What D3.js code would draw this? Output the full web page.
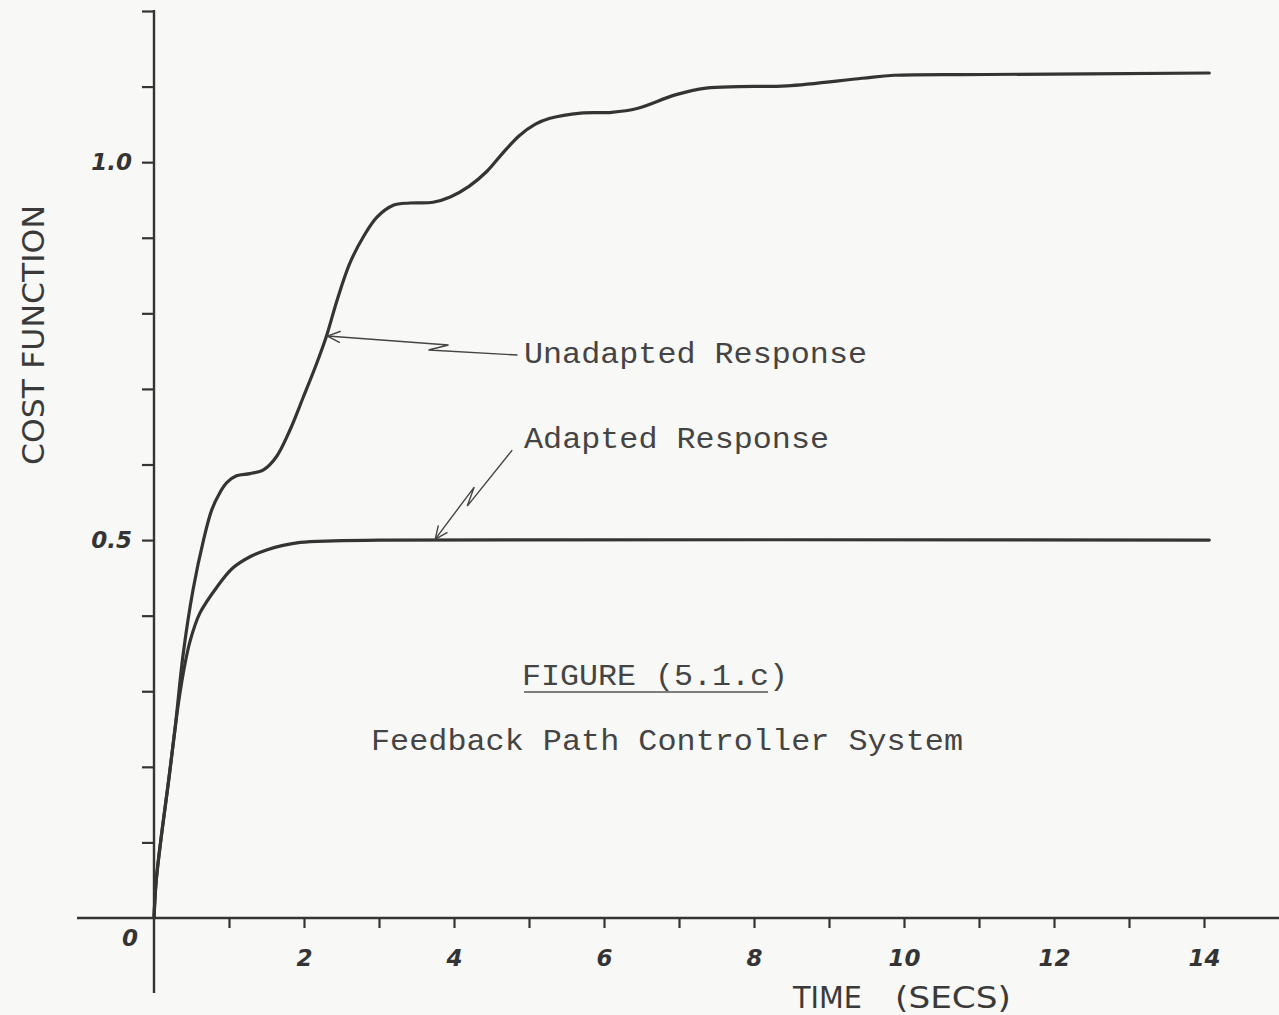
<!DOCTYPE html>
<html>
<head>
<meta charset="utf-8">
<script src="https://cdn.jsdelivr.net/npm/d3@7"></script>
<style>
  html, body { margin: 0; padding: 0; background: #f8f8f6; }
  svg { display: block; }
</style>
</head>
<body>
<svg id="chart" width="1279" height="1015"></svg>
<script>
// Cost function vs. time, sampled from the two simulated responses
const unadaptedTime = [0, 0.03, 0.1, 0.19, 0.28, 0.39, 0.52, 0.66, 0.77, 0.88, 0.97, 1.1, 1.28, 1.46, 1.63, 1.81, 1.99, 2.17, 2.3, 2.44, 2.61, 2.79, 2.97, 3.19, 3.41, 3.72, 3.95, 4.2, 4.44, 4.65, 4.87, 5.08, 5.28, 5.69, 6.1, 6.44, 6.95, 7.36, 7.8, 8.44, 9.44, 9.87, 11.1, 14.07];
const unadaptedCost = [0, 0.05, 0.11, 0.178, 0.25, 0.35, 0.434, 0.5, 0.54, 0.563, 0.576, 0.585, 0.588, 0.593, 0.61, 0.645, 0.689, 0.734, 0.77, 0.817, 0.866, 0.901, 0.927, 0.943, 0.946, 0.947, 0.954, 0.968, 0.988, 1.012, 1.035, 1.05, 1.058, 1.065, 1.066, 1.071, 1.089, 1.098, 1.1, 1.101, 1.111, 1.115, 1.116, 1.118];

const adaptedTime = [0, 0.03, 0.1, 0.19, 0.32, 0.39, 0.48, 0.61, 0.84, 1.05, 1.28, 1.5, 1.72, 1.95, 2.39, 3.0, 14.07];
const adaptedCost = [0, 0.05, 0.11, 0.178, 0.28, 0.324, 0.366, 0.403, 0.438, 0.463, 0.478, 0.487, 0.493, 0.497, 0.499, 0.5, 0.5];

// Axis ticks and labels
const xTickValues = [1, 2, 3, 4, 5, 6, 7, 8, 9, 10, 11, 12, 13, 14];
const xLabelValues = [2, 4, 6, 8, 10, 12, 14];
const yTickValues = [0.1, 0.2, 0.3, 0.4, 0.5, 0.6, 0.7, 0.8, 0.9, 1.0, 1.1, 1.2];
const yLabelValues = [0.5, 1.0];

// Annotation anchors (time, cost) on each curve
const unadaptedPointer = [2.3, 0.77];
const adaptedPointer = [3.75, 0.5];

const ink = "#343434";
const svg = d3.select("#chart");

const x = d3.scaleLinear().domain([0, 14]).range([154, 1204]);
const y = d3.scaleLinear().domain([0, 1.2]).range([918, 11]);

const labelFont = "'DejaVu Sans', sans-serif";
const typeFont = "'Liberation Mono', 'Courier New', monospace";

function numberStyle(sel) {
  sel.attr("fill", ink)
    .style("font-family", labelFont)
    .style("font-size", "23px")
    .style("font-style", "italic")
    .style("font-weight", "bold");
}

// Axis lines (extend past the origin like a hand-drawn frame)
svg.append("line")
  .attr("x1", 77).attr("x2", 1279)
  .attr("y1", y(0)).attr("y2", y(0))
  .attr("stroke", ink).attr("stroke-width", 2.4);
svg.append("line")
  .attr("x1", x(0)).attr("x2", x(0))
  .attr("y1", y(1.2) - 1).attr("y2", 993)
  .attr("stroke", ink).attr("stroke-width", 2.4);

// Y axis ticks and labels
const yAxis = d3.axisLeft(y)
  .tickValues(yTickValues)
  .tickSize(12)
  .tickPadding(10)
  .tickFormat(d => yLabelValues.some(v => Math.abs(v - d) < 1e-9) ? d3.format(".1f")(d) : "");
const gy = svg.append("g").attr("transform", `translate(${x(0)},0)`).call(yAxis);
gy.select(".domain").remove();
gy.selectAll(".tick line").attr("stroke", ink).attr("stroke-width", 2.2);
gy.selectAll(".tick text").call(numberStyle);

// X axis ticks and labels
const xAxis = d3.axisBottom(x)
  .tickValues(xTickValues)
  .tickSize(10)
  .tickPadding(22)
  .tickFormat(d => xLabelValues.includes(d) ? String(d) : "");
const gx = svg.append("g").attr("transform", `translate(0,${y(0)})`).call(xAxis);
gx.select(".domain").remove();
gx.selectAll(".tick line").attr("stroke", ink).attr("stroke-width", 2.2);
gx.selectAll(".tick text").call(numberStyle);

// Origin label
svg.append("text")
  .attr("x", x(0) - 24).attr("y", y(0) + 28)
  .attr("text-anchor", "middle")
  .call(numberStyle)
  .text("0");

// Axis titles
svg.append("text")
  .attr("transform", "translate(44,335) rotate(-90)")
  .attr("text-anchor", "middle")
  .attr("fill", "#3a3a3a")
  .attr("textLength", 260)
  .attr("lengthAdjust", "spacingAndGlyphs")
  .style("font-family", labelFont)
  .style("font-size", "30px")
  .text("COST FUNCTION");

svg.append("text")
  .attr("x", 793).attr("y", 1008)
  .attr("fill", "#3a3a3a")
  .attr("textLength", 69)
  .attr("lengthAdjust", "spacingAndGlyphs")
  .style("font-family", labelFont)
  .style("font-size", "30px")
  .text("TIME");
svg.append("text")
  .attr("x", 895).attr("y", 1008)
  .attr("fill", "#3a3a3a")
  .attr("textLength", 116)
  .attr("lengthAdjust", "spacingAndGlyphs")
  .style("font-family", labelFont)
  .style("font-size", "30px")
  .text("(SECS)");

// Response curves
const line = d3.line()
  .x(d => x(d[0]))
  .y(d => y(d[1]))
  .curve(d3.curveCatmullRom.alpha(0.5));

const unadapted = unadaptedTime.map((t, i) => [t, unadaptedCost[i]]);
const adapted = adaptedTime.map((t, i) => [t, adaptedCost[i]]);

[unadapted, adapted].forEach(series => {
  svg.append("path")
    .datum(series)
    .attr("d", line)
    .attr("fill", "none")
    .attr("stroke", ink)
    .attr("stroke-width", 3.2)
    .attr("stroke-linejoin", "round")
    .attr("stroke-linecap", "round");
});

// Pointer arrows with a zig-zag break
function arrow(tip, pts) {
  const path = d3.path();
  path.moveTo(tip[0], tip[1]);
  pts.forEach(p => path.lineTo(p[0], p[1]));
  svg.append("path")
    .attr("d", path.toString())
    .attr("fill", "none")
    .attr("stroke", "#444")
    .attr("stroke-width", 1.4)
    .attr("stroke-linejoin", "miter");
  const dx = pts[0][0] - tip[0], dy = pts[0][1] - tip[1];
  const ang = Math.atan2(dy, dx);
  const len = 14, spread = 0.42;
  const head = d3.path();
  head.moveTo(tip[0] + len * Math.cos(ang - spread), tip[1] + len * Math.sin(ang - spread));
  head.lineTo(tip[0], tip[1]);
  head.lineTo(tip[0] + len * Math.cos(ang + spread), tip[1] + len * Math.sin(ang + spread));
  svg.append("path")
    .attr("d", head.toString())
    .attr("fill", "none")
    .attr("stroke", "#444")
    .attr("stroke-width", 1.4);
}

const ut = [x(unadaptedPointer[0]) + 1, y(unadaptedPointer[1])];
arrow(ut, [[ut[0] + 121, ut[1] + 9], [ut[0] + 101, ut[1] + 14], [ut[0] + 190, ut[1] + 19]]);

const at = [x(adaptedPointer[0]), y(adaptedPointer[1]) - 1];
arrow(at, [[at[0] + 39, at[1] - 52], [at[0] + 32, at[1] - 33], [at[0] + 77, at[1] - 89]]);

// Typewritten annotations
function typed(txt, x0, baseline, width) {
  return svg.append("text")
    .attr("x", x0).attr("y", baseline)
    .attr("fill", "#444")
    .attr("textLength", width)
    .attr("lengthAdjust", "spacingAndGlyphs")
    .style("font-family", typeFont)
    .style("font-size", "30px")
    .text(txt);
}

typed("Unadapted Response", 524, 363, 343);
typed("Adapted Response", 524, 448, 305);
typed("FIGURE (5.1.c)", 522, 685, 266);
svg.append("line")
  .attr("x1", 524).attr("x2", 768)
  .attr("y1", 692).attr("y2", 692)
  .attr("stroke", "#555").attr("stroke-width", 1.4);
typed("Feedback Path Controller System", 371, 750, 592);
</script>
</body>
</html>
